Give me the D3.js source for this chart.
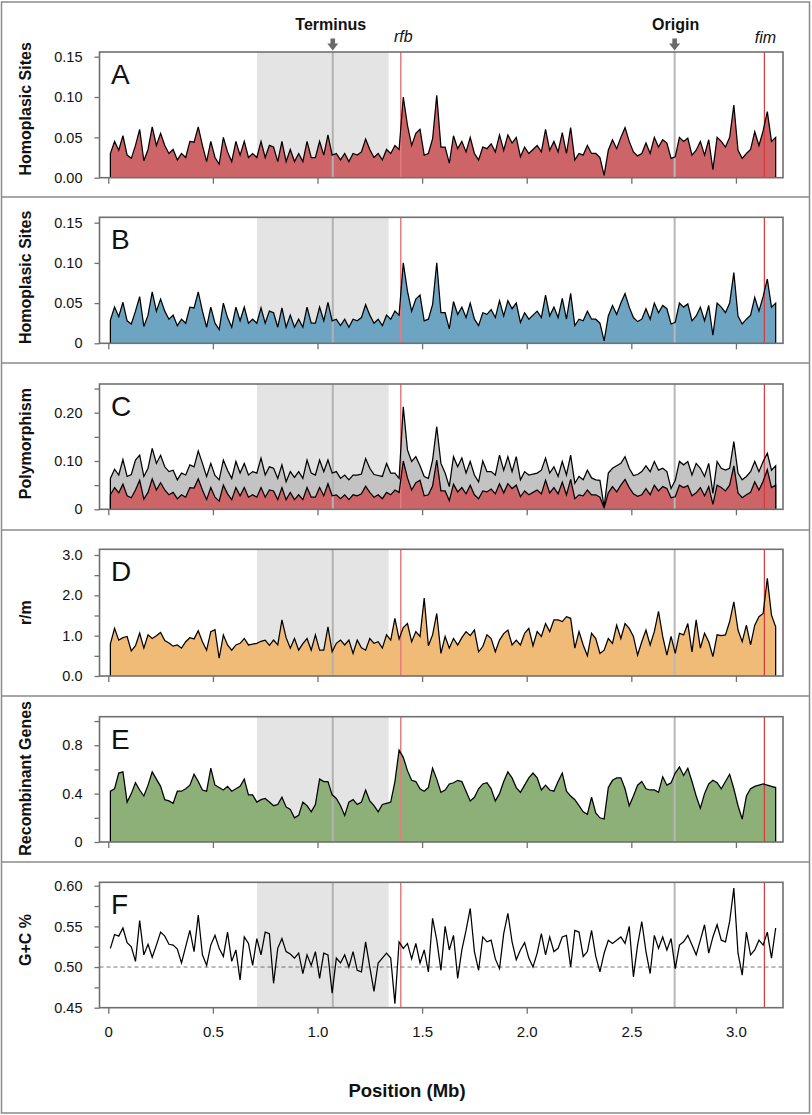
<!DOCTYPE html>
<html><head><meta charset="utf-8">
<script src="https://cdn.jsdelivr.net/npm/d3@7"></script>
<style>
body{margin:0;background:#fff}
svg{display:block}
text{font-family:"Liberation Sans",Arial,Helvetica,sans-serif;fill:#111}
</style>
</head><body>
<svg id="chart" width="812" height="1115"></svg>
<script>
// ---- data (windows along the genome, Mb) ----
const windowStartMb = 0.01, windowStepMb = 0.02;

const homoplasicA = [
0.030,0.045,0.034,0.052,0.028,0.024,0.040,0.060,0.021,0.035,
0.063,0.040,0.055,0.040,0.030,0.035,0.022,0.030,0.025,0.045,
0.044,0.063,0.040,0.020,0.045,0.025,0.017,0.050,0.032,0.020,
0.045,0.028,0.045,0.025,0.030,0.025,0.045,0.025,0.040,0.038,
0.020,0.045,0.020,0.035,0.020,0.030,0.020,0.045,0.025,0.025,
0.045,0.028,0.053,0.028,0.030,0.022,0.030,0.020,0.030,0.028,
0.032,0.048,0.035,0.025,0.030,0.022,0.035,0.030,0.040,0.035,
0.100,0.065,0.040,0.055,0.060,0.028,0.030,0.048,0.102,0.038,
0.038,0.018,0.052,0.036,0.045,0.032,0.050,0.030,0.022,0.038,
0.036,0.042,0.032,0.053,0.034,0.053,0.043,0.050,0.026,0.038,
0.030,0.035,0.040,0.032,0.060,0.034,0.045,0.032,0.056,0.030,
0.062,0.022,0.030,0.028,0.040,0.030,0.030,0.025,0.003,0.034,
0.047,0.036,0.050,0.062,0.045,0.032,0.027,0.030,0.043,0.030,
0.050,0.038,0.047,0.043,0.024,0.026,0.050,0.045,0.049,0.028,
0.034,0.045,0.028,0.047,0.010,0.050,0.045,0.038,0.050,0.090,
0.034,0.024,0.030,0.035,0.057,0.040,0.058,0.082,0.045,0.050];

const homoplasicB = [
0.029,0.045,0.033,0.051,0.028,0.024,0.040,0.058,0.021,0.035,
0.064,0.040,0.055,0.040,0.030,0.035,0.022,0.030,0.025,0.045,
0.044,0.064,0.040,0.020,0.045,0.025,0.017,0.050,0.032,0.020,
0.045,0.028,0.045,0.025,0.030,0.025,0.044,0.025,0.040,0.038,
0.020,0.044,0.020,0.035,0.020,0.030,0.020,0.045,0.025,0.025,
0.045,0.028,0.051,0.028,0.030,0.022,0.030,0.020,0.030,0.028,
0.032,0.048,0.035,0.025,0.030,0.022,0.035,0.030,0.040,0.035,
0.100,0.065,0.040,0.055,0.060,0.028,0.030,0.048,0.100,0.038,
0.038,0.018,0.052,0.036,0.045,0.032,0.050,0.030,0.022,0.038,
0.036,0.042,0.032,0.053,0.034,0.053,0.043,0.050,0.026,0.038,
0.030,0.035,0.040,0.032,0.060,0.034,0.045,0.032,0.056,0.030,
0.062,0.022,0.030,0.028,0.040,0.030,0.030,0.025,0.003,0.034,
0.047,0.036,0.050,0.062,0.045,0.032,0.027,0.030,0.043,0.030,
0.050,0.038,0.047,0.043,0.024,0.026,0.050,0.045,0.049,0.028,
0.034,0.045,0.028,0.047,0.010,0.050,0.045,0.038,0.050,0.088,
0.034,0.024,0.030,0.035,0.057,0.040,0.058,0.080,0.045,0.050];

const polymorphismTotal = [
0.064,0.083,0.071,0.103,0.068,0.072,0.102,0.112,0.068,0.085,
0.126,0.095,0.112,0.088,0.078,0.081,0.061,0.075,0.071,0.092,
0.088,0.121,0.095,0.068,0.095,0.070,0.061,0.102,0.081,0.064,
0.099,0.075,0.095,0.071,0.078,0.075,0.106,0.071,0.088,0.085,
0.064,0.092,0.057,0.078,0.066,0.078,0.064,0.102,0.075,0.071,
0.102,0.078,0.102,0.075,0.078,0.064,0.071,0.061,0.071,0.071,
0.073,0.105,0.085,0.072,0.070,0.068,0.095,0.075,0.075,0.064,
0.212,0.123,0.099,0.109,0.090,0.068,0.064,0.102,0.171,0.095,
0.075,0.047,0.109,0.088,0.106,0.075,0.099,0.071,0.057,0.100,
0.078,0.078,0.071,0.112,0.081,0.109,0.078,0.109,0.061,0.078,
0.071,0.073,0.075,0.081,0.106,0.075,0.088,0.068,0.099,0.071,
0.112,0.054,0.068,0.061,0.081,0.065,0.061,0.060,0.005,0.075,
0.085,0.090,0.095,0.109,0.085,0.070,0.072,0.078,0.090,0.078,
0.099,0.081,0.085,0.078,0.043,0.060,0.099,0.092,0.099,0.071,
0.095,0.085,0.068,0.095,0.033,0.099,0.085,0.081,0.085,0.140,
0.075,0.061,0.068,0.078,0.099,0.078,0.099,0.116,0.081,0.090];

const polymorphismHomoplasic = homoplasicA.slice();

const recombinationRatio = [
0.80,1.18,0.89,0.95,0.98,0.62,0.75,1.06,0.69,1.02,
0.93,1.00,1.08,0.88,0.82,0.74,0.77,0.69,0.85,0.95,
0.92,1.12,0.85,0.64,1.10,1.15,0.44,1.02,0.77,0.64,
0.77,0.81,0.93,0.77,0.79,0.81,0.86,0.89,0.76,0.89,
0.77,1.39,0.95,0.69,0.93,0.64,0.80,0.93,0.64,1.02,
0.64,0.64,1.22,0.60,0.81,0.89,0.77,0.89,0.56,0.89,
0.70,0.64,0.93,0.81,0.85,0.69,1.02,0.89,1.43,0.92,
1.20,1.30,0.85,1.10,0.98,1.93,0.75,1.02,1.55,0.56,
0.98,0.69,0.93,0.77,0.95,1.10,1.00,1.14,0.60,0.73,
1.02,0.93,0.60,0.89,1.05,1.14,0.77,0.89,0.77,1.06,
1.18,0.75,1.10,0.98,1.30,1.10,1.39,1.39,1.35,1.47,
1.43,0.69,1.10,0.77,0.50,1.06,0.93,0.56,0.64,0.93,
0.81,1.26,0.93,1.30,1.18,0.98,0.52,0.85,1.14,0.77,
1.10,1.60,0.98,0.52,0.98,0.56,1.06,1.02,1.30,0.60,
1.39,0.69,1.06,0.85,0.48,1.02,1.00,1.02,1.35,1.84,
1.14,0.85,1.26,0.77,1.26,1.47,1.55,2.42,1.51,1.22];

const recombinantGenes = [
0.42,0.44,0.57,0.58,0.33,0.40,0.49,0.43,0.38,0.47,
0.58,0.52,0.46,0.35,0.34,0.32,0.42,0.42,0.44,0.47,
0.56,0.50,0.43,0.42,0.61,0.47,0.45,0.43,0.46,0.42,
0.44,0.46,0.52,0.39,0.39,0.33,0.35,0.36,0.33,0.30,
0.31,0.37,0.29,0.27,0.20,0.22,0.33,0.30,0.25,0.31,
0.52,0.50,0.50,0.39,0.36,0.30,0.22,0.33,0.35,0.31,
0.33,0.43,0.34,0.30,0.25,0.31,0.32,0.33,0.50,0.76,
0.70,0.59,0.51,0.50,0.44,0.42,0.45,0.61,0.52,0.41,
0.43,0.48,0.49,0.51,0.50,0.42,0.34,0.37,0.44,0.48,
0.49,0.44,0.34,0.40,0.50,0.58,0.53,0.45,0.41,0.47,
0.53,0.57,0.53,0.43,0.47,0.43,0.42,0.50,0.57,0.42,
0.38,0.35,0.30,0.25,0.23,0.37,0.24,0.20,0.19,0.45,
0.51,0.53,0.53,0.44,0.30,0.38,0.47,0.50,0.44,0.43,
0.43,0.41,0.54,0.47,0.49,0.57,0.62,0.55,0.61,0.50,
0.38,0.28,0.40,0.48,0.51,0.49,0.44,0.50,0.56,0.44,
0.30,0.19,0.38,0.44,0.46,0.47,0.48,0.47,0.46,0.45];

const gcContent = [
0.523,0.540,0.538,0.548,0.530,0.525,0.507,0.557,0.515,0.528,
0.512,0.527,0.543,0.538,0.528,0.527,0.522,0.505,0.525,0.545,
0.519,0.564,0.515,0.502,0.527,0.539,0.523,0.513,0.543,0.507,
0.521,0.484,0.537,0.529,0.502,0.535,0.515,0.543,0.541,0.480,
0.523,0.535,0.519,0.516,0.511,0.517,0.492,0.515,0.502,0.519,
0.486,0.517,0.515,0.468,0.511,0.505,0.515,0.500,0.519,0.496,
0.494,0.531,0.500,0.470,0.505,0.511,0.517,0.511,0.455,0.531,
0.523,0.529,0.510,0.529,0.505,0.521,0.494,0.560,0.533,0.496,
0.550,0.521,0.539,0.486,0.521,0.545,0.572,0.519,0.496,0.537,
0.531,0.533,0.510,0.498,0.541,0.566,0.531,0.509,0.521,0.530,
0.511,0.500,0.517,0.541,0.515,0.537,0.519,0.523,0.537,0.539,
0.500,0.545,0.543,0.513,0.519,0.545,0.513,0.494,0.517,0.533,
0.529,0.533,0.537,0.529,0.550,0.488,0.527,0.556,0.519,0.492,
0.539,0.523,0.537,0.521,0.535,0.498,0.527,0.531,0.539,0.527,
0.515,0.533,0.552,0.517,0.537,0.552,0.533,0.531,0.556,0.597,
0.517,0.490,0.543,0.515,0.521,0.533,0.527,0.543,0.511,0.548];

const gcReference = 0.50;

const xTickValues = [0, 0.5, 1.0, 1.5, 2.0, 2.5, 3.0];
const xTickLabels = ["0", "0.5", "1.0", "1.5", "2.0", "2.5", "3.0"];

const markers = { terminus: 1.073, origin: 2.707, rfb: 1.398, fim: 3.136 };
const shadedRegion = [0.711, 1.340];

const panelLetters = ["A", "B", "C", "D", "E", "F"];
const panelTitles = ["Homoplasic Sites", "Homoplasic Sites", "Polymorphism", "r/m", "Recombinant Genes", "G+C %"];
const yTickValues = [
  [0, 0.05, 0.10, 0.15],
  [0, 0.05, 0.10, 0.15],
  [0, 0.05, 0.10, 0.15, 0.20, 0.25],
  [0, 0.5, 1.0, 1.5, 2.0, 2.5, 3.0],
  [0, 0.2, 0.4, 0.6, 0.8, 1.0],
  [0.45, 0.475, 0.50, 0.525, 0.55, 0.575, 0.60]
];
const yTickLabels = [
  ["0.00", "0.05", "0.10", "0.15"],
  ["0", "0.05", "0.10", "0.15"],
  ["0", "", "0.10", "", "0.20", ""],
  ["0.0", "", "1.0", "", "2.0", "", "3.0"],
  ["0", "", "0.4", "", "0.8", ""],
  ["0.45", "", "0.50", "", "0.55", "", "0.60"]
];

// ---- layout ----
const svg = d3.select("#chart");
const FRAME = "#8a8a8a", AXIS = "#707070";

const plotLeft = 99.5, plotRight = 783;
const plots = [
  {top: 52,    bottom: 177.7, domain: [0, 0.1558]},
  {top: 217.3, bottom: 343.3, domain: [0, 0.1567]},
  {top: 384,   bottom: 509.3, domain: [0, 0.2594]},
  {top: 549.3, bottom: 676,   domain: [0, 3.141]},
  {top: 716.7, bottom: 842,   domain: [0, 1.036]},
  {top: 882.3, bottom: 1007.7,domain: [0.45, 0.6042]}
];
const titleOffsets = [-6, -3, -3, 0, -1, -5];
const separators = [197, 363, 530, 696, 862];

const x = d3.scaleLinear().domain([-0.042, 3.225]).range([plotLeft, plotRight]);
const pos = i => windowStartMb + i * windowStepMb;

// outer frame + separators
svg.append("rect").attr("x", 1.5).attr("y", 2).attr("width", 808).attr("height", 1111)
  .attr("fill", "none").attr("stroke", FRAME).attr("stroke-width", 1.5);
separators.forEach(s => svg.append("line").attr("x1", 1.5).attr("x2", 809.5).attr("y1", s).attr("y2", s)
  .attr("stroke", FRAME).attr("stroke-width", 1.5));

const seriesByPanel = [
  [{values: homoplasicA, fill: "#cd6468"}],
  [{values: homoplasicB, fill: "#6ca4c1"}],
  [{values: polymorphismTotal, fill: "#c3c3c3"}, {values: polymorphismHomoplasic, fill: "#cd6468"}],
  [{values: recombinationRatio, fill: "#f0bb76"}],
  [{values: recombinantGenes, fill: "#8cb077"}],
  [{values: gcContent, fill: null}]
];

plots.forEach((p, k) => {
  const y = d3.scaleLinear().domain(p.domain).range([p.bottom, p.top]);
  const g = svg.append("g");
  const base = p.domain[0];

  g.append("rect").attr("x", x(shadedRegion[0])).attr("width", x(shadedRegion[1]) - x(shadedRegion[0]))
    .attr("y", p.top).attr("height", p.bottom - p.top).attr("fill", "#e4e4e4");

  seriesByPanel[k].forEach(s => {
    if (!s.fill) return;
    const area = d3.area().x((d, i) => x(pos(i))).y0(y(base)).y1(d => y(d));
    g.append("path").datum(s.values).attr("d", area).attr("fill", s.fill);
  });

  [[markers.terminus, "#b2b2b2", 2], [markers.origin, "#b8b8b8", 2],
   [markers.rfb, "#e67c7e", 1.5], [markers.fim, "#d9393b", 1.2]].forEach(([m, c, w]) => {
    g.append("line").attr("x1", x(m)).attr("x2", x(m)).attr("y1", p.top).attr("y2", p.bottom)
      .attr("stroke", c).attr("stroke-width", w);
  });

  if (k === 5) {
    g.append("line").attr("x1", plotLeft).attr("x2", plotRight)
      .attr("y1", y(gcReference)).attr("y2", y(gcReference))
      .attr("stroke", "#555").attr("stroke-width", 0.8).attr("stroke-dasharray", "4,3");
  }

  seriesByPanel[k].forEach(s => {
    const n = s.values.length;
    const pts = s.values.map((d, i) => [x(pos(i)), y(d)]);
    if (s.fill) { pts.unshift([x(pos(0)), y(base)]); pts.push([x(pos(n - 1)), y(base)]); }
    g.append("path").attr("d", d3.line()(pts)).attr("fill", "none")
      .attr("stroke", "#000").attr("stroke-width", 1.25).attr("stroke-linejoin", "miter");
  });

  g.append("rect").attr("x", plotLeft).attr("y", p.top).attr("width", plotRight - plotLeft)
    .attr("height", p.bottom - p.top).attr("fill", "none").attr("stroke", AXIS).attr("stroke-width", 1.6);

  const labels = yTickLabels[k];
  const yAxis = d3.axisLeft(y).tickValues(yTickValues[k]).tickSize(5).tickPadding(12)
    .tickFormat((d, i) => labels[i]);
  const ya = g.append("g").attr("transform", `translate(${plotLeft},0)`).call(yAxis);
  ya.select(".domain").remove();
  ya.selectAll(".tick line").attr("stroke", AXIS).attr("stroke-width", 1.3);
  ya.selectAll(".tick text").attr("font-size", 14.5).attr("fill", "#222")
    .attr("font-family", '"Liberation Sans",Arial,sans-serif');

  const xAxis = d3.axisBottom(x).tickValues(xTickValues).tickSize(6).tickPadding(13)
    .tickFormat((d, i) => k === 5 ? xTickLabels[i] : "");
  const xa = g.append("g").attr("transform", `translate(0,${p.bottom})`).call(xAxis);
  xa.select(".domain").remove();
  xa.selectAll(".tick line").attr("stroke", AXIS).attr("stroke-width", 1.3);
  xa.selectAll(".tick text").attr("font-size", 15).attr("fill", "#222")
    .attr("font-family", '"Liberation Sans",Arial,sans-serif');

  g.append("text").attr("x", plotLeft + 11.5).attr("y", p.top + 32)
    .attr("font-size", 28).text(panelLetters[k]);

  const cy = (p.top + p.bottom) / 2 + titleOffsets[k];
  g.append("text").attr("transform", `translate(31,${cy}) rotate(-90)`)
    .attr("text-anchor", "middle").attr("font-size", 16).attr("font-weight", "bold")
    .text(panelTitles[k]);
});

// top annotations
const arrow = (cx) => {
  svg.append("rect").attr("x", cx - 2.3).attr("y", 38.5).attr("width", 4.6).attr("height", 5.5).attr("fill", "#6a6a6a");
  svg.append("path").attr("d", `M${cx - 5.5},43.5 L${cx + 5.5},43.5 L${cx},50.5 Z`).attr("fill", "#6a6a6a");
};
svg.append("text").attr("x", x(markers.terminus) - 2).attr("y", 30).attr("text-anchor", "middle")
  .attr("font-size", 16).attr("font-weight", "bold").text("Terminus");
arrow(x(markers.terminus));
svg.append("text").attr("x", x(markers.origin) + 1).attr("y", 30).attr("text-anchor", "middle")
  .attr("font-size", 16).attr("font-weight", "bold").text("Origin");
arrow(x(markers.origin));
svg.append("text").attr("x", x(markers.rfb) + 2.5).attr("y", 42).attr("text-anchor", "middle")
  .attr("font-size", 16).attr("font-style", "italic").text("rfb");
svg.append("text").attr("x", x(markers.fim) + 1).attr("y", 42.5).attr("text-anchor", "middle")
  .attr("font-size", 16).attr("font-style", "italic").text("fim");

svg.append("text").attr("x", 407).attr("y", 1097).attr("text-anchor", "middle")
  .attr("font-size", 18.5).attr("font-weight", "bold").text("Position (Mb)");
</script>
</body></html>
